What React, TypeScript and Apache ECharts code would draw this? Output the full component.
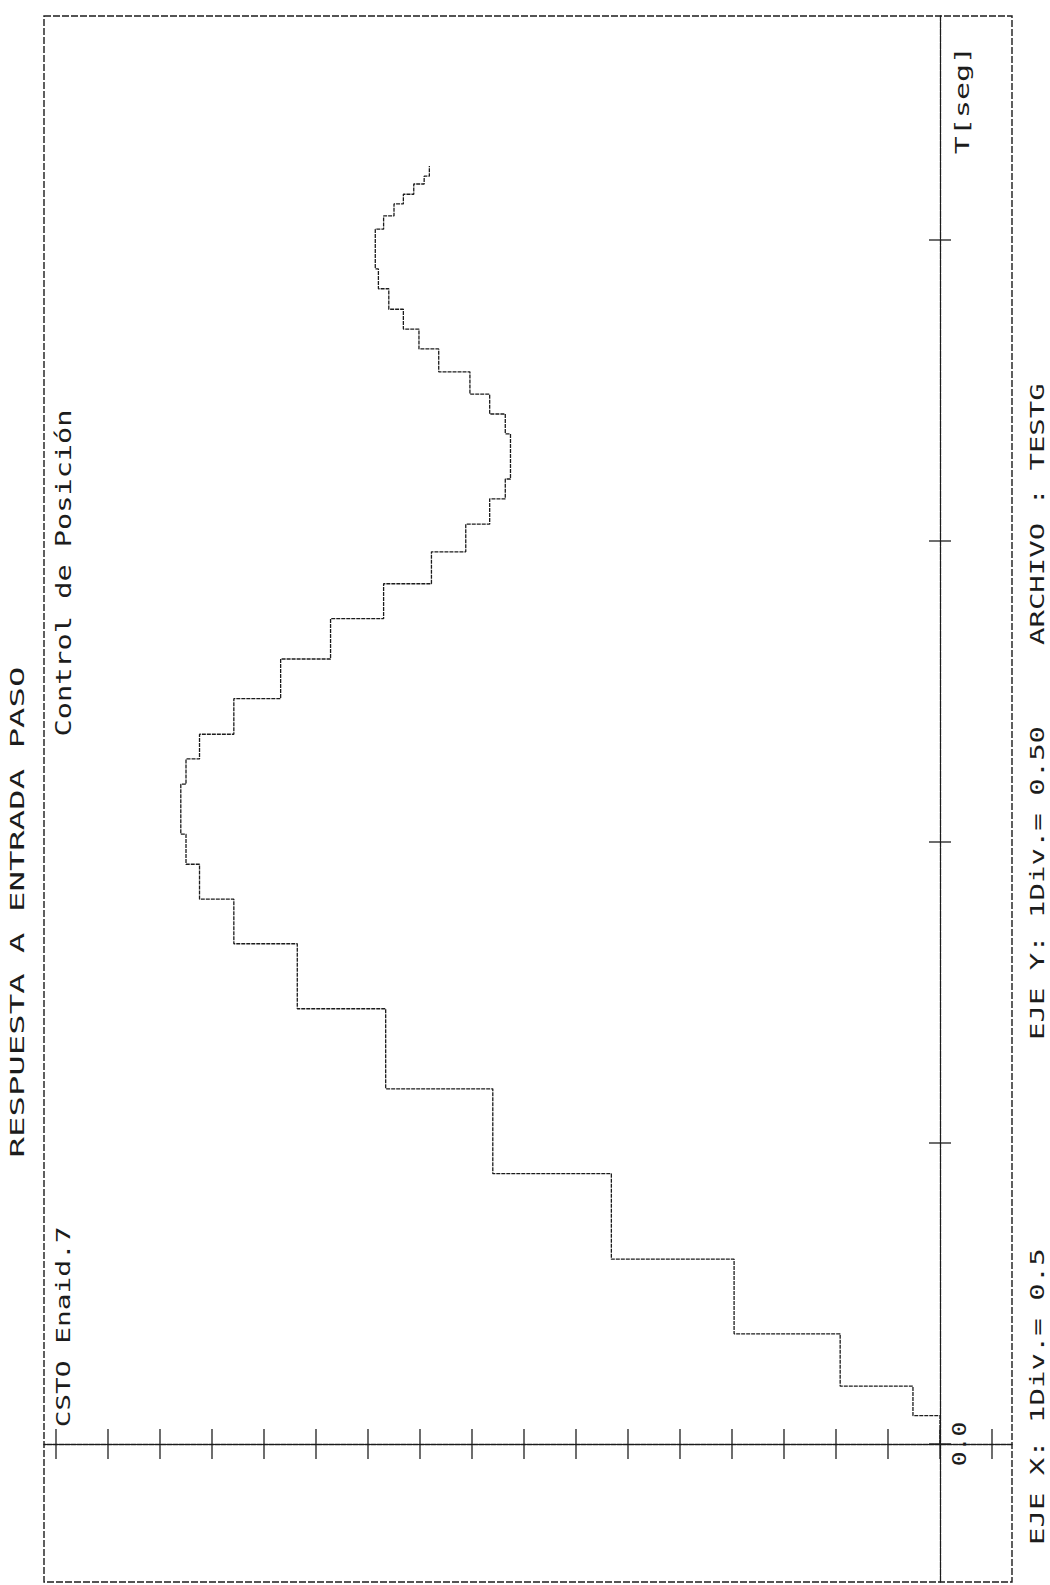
import React, { useEffect, useRef } from "react";
import * as echarts from "echarts";

// ---- data (time in s, response in units; 1 div = 0.5 on both axes) ----
const stepStartTimes = [
  0, 0.047, 0.096, 0.183, 0.307, 0.449, 0.59, 0.723, 0.831, 0.905, 0.963, 1.013,
  1.096, 1.138, 1.179, 1.238, 1.304, 1.371, 1.429, 1.482, 1.528, 1.57, 1.603,
  1.678, 1.711, 1.744, 1.781, 1.819, 1.852, 1.885, 1.919, 1.952, 2.018, 2.04,
  2.06, 2.076, 2.093, 2.106,
];
const stepLevels = [
  0, 0.26, 0.96, 1.98, 3.16, 4.3, 5.33, 6.18, 6.79, 7.12, 7.25, 7.3,
  7.25, 7.12, 6.79, 6.34, 5.86, 5.35, 4.89, 4.56, 4.33, 4.18, 4.13,
  4.18, 4.33, 4.52, 4.82, 5.01, 5.16, 5.3, 5.4, 5.43, 5.35, 5.25,
  5.16, 5.06, 4.96, 4.91,
];
const stepEndTime = 2.123;

const responseTicks = [-0.5, 0, 0.5, 1, 1.5, 2, 2.5, 3, 3.5, 4, 4.5, 5, 5.5, 6, 6.5, 7, 7.5, 8, 8.5];
const timeTicks = [0, 0.5, 1, 1.5, 2];
const originLabel = "0.0";
const timeAxisName = "T[seg]";
const titleText = "RESPUESTA A ENTRADA PASO";
const subtitleText = "Control de Posición";
const noteText = "CSTO Enaid.7";
const footerX = "EJE X: 1Div.= 0.5";
const footerY = "EJE Y: 1Div.= 0.50";
const footerFile = "ARCHIVO : TESTG";

const INK = "#1c1c1c";
const MONO = "DejaVu Sans Mono";

function rotText(text: string, x: number, y: number, size: number, stretch: number, align: string) {
  return {
    type: "text",
    x,
    y,
    rotation: Math.PI / 2,
    scaleX: stretch,
    silent: true,
    style: {
      text,
      fill: INK,
      font: `${size}px "${MONO}"`,
      align,
      verticalAlign: "middle",
      textAlign: align,
      textVerticalAlign: "middle",
    },
  };
}

export default function App() {
  const ref = useRef<HTMLDivElement>(null);
  useEffect(() => {
    if (!ref.current) return;
    const chart = echarts.init(ref.current, undefined, { renderer: "svg" });

    const stepData: number[][] = [];
    for (let i = 0; i < stepLevels.length; i++) {
      const tEnd = i + 1 < stepStartTimes.length ? stepStartTimes[i + 1] : stepEndTime;
      stepData.push([stepLevels[i], stepStartTimes[i]]);
      stepData.push([stepLevels[i], tEnd]);
    }

    const left = 44, right = 1012, top = 16, bottom = 1582;
    const x0 = 940, y0 = 1444;
    const pxPerUnitX = 104; // 52 px per 0.5
    const pxPerUnitY = 602; // 301 px per 0.5 s

    chart.setOption({
      animation: false,
      backgroundColor: "#ffffff",
      grid: { left, right: 1050 - right, top, bottom: 1585 - bottom, containLabel: false },
      xAxis: {
        type: "value",
        inverse: true,
        min: -(right - x0) / pxPerUnitX,
        max: (x0 - left) / pxPerUnitX,
        axisLine: { show: true, onZero: true, lineStyle: { color: INK, width: 1.3, type: [5, 1] } },
        axisTick: { show: false },
        axisLabel: { show: false },
        splitLine: { show: false },
      },
      yAxis: {
        type: "value",
        position: "right",
        min: -(bottom - y0) / pxPerUnitY,
        max: (y0 - top) / pxPerUnitY,
        axisLine: { show: true, onZero: true, lineStyle: { color: INK, width: 1.3, type: [6, 1] } },
        axisTick: { show: false },
        axisLabel: { show: false },
        splitLine: { show: false },
      },
      series: [
        {
          type: "line",
          data: stepData,
          showSymbol: false,
          silent: true,
          lineStyle: { color: INK, width: 1.3, type: [4, 1] },
        },
        {
          type: "scatter",
          silent: true,
          symbol: "rect",
          symbolSize: [1.6, 30],
          itemStyle: { color: INK },
          data: responseTicks.map((v) => [v, 0]),
        },
        {
          type: "scatter",
          silent: true,
          symbol: "rect",
          symbolSize: [22, 1.6],
          itemStyle: { color: INK },
          data: timeTicks.map((t) => [0, t]),
        },
      ],
      graphic: [
        {
          type: "rect",
          silent: true,
          shape: { x: left, y: top, width: right - left, height: bottom - top },
          style: { fill: "none", stroke: INK, lineWidth: 1.4, lineDash: [7, 2] },
        },
        rotText(titleText, 17, 912, 20, 1.7, "center"),
        rotText(subtitleText, 63, 573, 22, 1.3, "center"),
        rotText(noteText, 63, 1327, 20, 1.39, "center"),
        rotText(timeAxisName, 962, 100, 20, 1.5, "center"),
        rotText(originLabel, 960, y0, 19, 1.3, "center"),
        rotText(footerX, 1037, 1545, 20, 1.45, "left"),
        rotText(footerY, 1037, 1040, 20, 1.45, "left"),
        rotText(footerFile, 1037, 645, 20, 1.45, "left"),
      ],
    });
    return () => chart.dispose();
  }, []);
  return (
    <div
      ref={ref}
      style={{ position: "fixed", left: 0, top: 0, width: 1050, height: 1585, background: "#fff" }}
    />
  );
}
